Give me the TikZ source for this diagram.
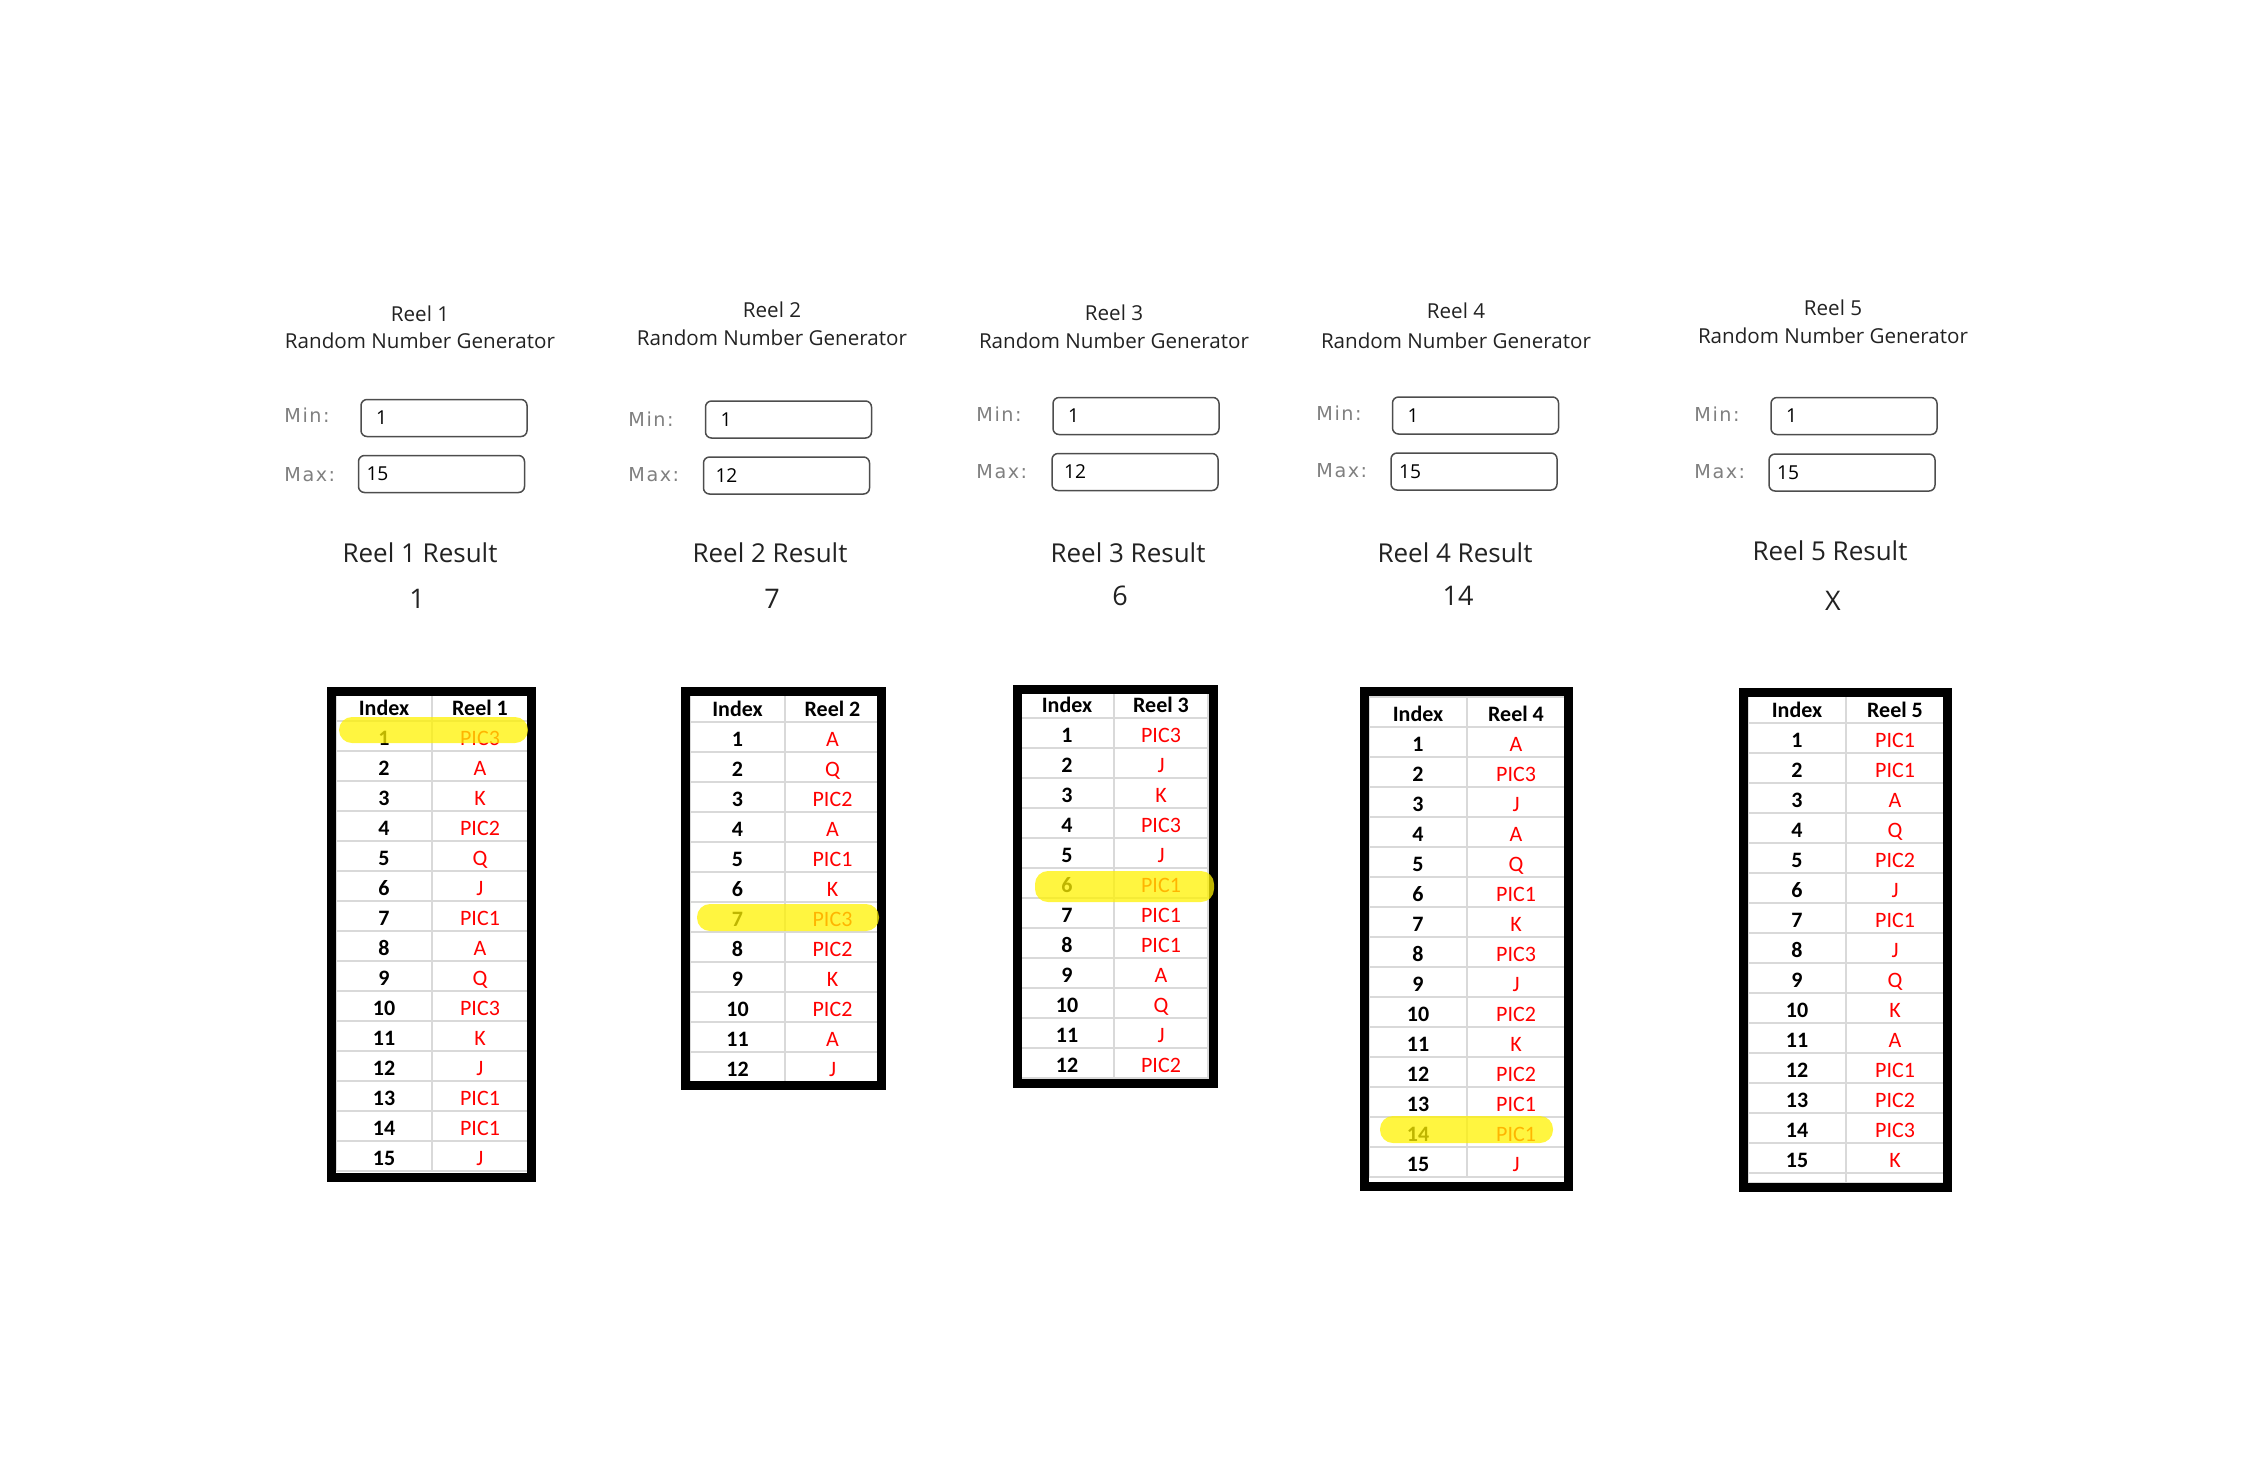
\documentclass[tikz,border=0pt]{standalone}
\usepackage{fontspec}
\setmainfont{Open Sans}
\newfontfamily\lblfont[LetterSpace=8]{DejaVu Sans}
\newfontfamily\cellfont{Carlito}
\usepackage{tikz}

\definecolor{labelgray}{HTML}{808080}
\definecolor{boxgray}{HTML}{4D4D4D}
\definecolor{gridgray}{HTML}{D9D9D9}
\definecolor{hiyellow}{HTML}{FFF200}
\definecolor{inkgray}{HTML}{222222}

\tikzset{
	reelhead/.style={anchor=base, inner sep=0pt, text=inkgray, font=\fontsize{10.3}{12}\selectfont},
	minmax/.style={anchor=base west, inner sep=0pt, text=labelgray, font=\lblfont\fontsize{9.6}{11}\selectfont},
	fieldbox/.style={draw=boxgray, line width=0.75pt, rounded corners=3pt, minimum width=83pt, minimum height=18.5pt, text width=75pt, inner xsep=4pt, align=left, font=\fontsize{9.6}{11}\selectfont},
	restitle/.style={anchor=base, inner sep=0pt, text=inkgray, font=\fontsize{13}{15}\selectfont},
	resnum/.style={anchor=base, inner sep=0pt, text=inkgray, font=\fontsize{13.5}{15}\selectfont},
	idxcell/.style={anchor=base, inner sep=0pt, font=\cellfont\bfseries\fontsize{11}{13}\selectfont},
	valcell/.style={anchor=base, inner sep=0pt, text=red, font=\cellfont\fontsize{11}{13}\selectfont},
	gridline/.style={draw=gridgray, line width=0.75pt},
	tableframe/.style={draw=black, line width=4.5pt},
	hilite/.style={fill=hiyellow, fill opacity=0.75, rounded corners=6.5pt}
}

\newcommand{\reeltable}[6]{%
	\foreach \v [count=\i] in {#6} {
		\draw[gridline] (#2, {#3+30*\i}) -- ({#2+2*#4}, {#3+30*\i});
		\draw[gridline] (#2, {#3+30*\i+30}) -- ({#2+2*#4}, {#3+30*\i+30});
		\node[idxcell] (t#1i\i)at({#2+#4/2}, {#3+30*\i+24}) {\i};
		\node[valcell] (t#1v\i)at({#2+1.5*#4}, {#3+30*\i+24}) {\v};
	}
	\draw[gridline] (#2, #3) rectangle ({#2+2*#4}, #5);
	\draw[gridline] ({#2+#4}, #3) -- ({#2+#4}, #5);
	\node[idxcell] (t#1ih)at({#2+#4/2}, {#3+24}) {Index};
	\node[idxcell] (t#1vh)at({#2+1.5*#4}, {#3+24}) {Reel #1};
}

\begin{document}
\begin{tikzpicture}[x=0.5pt, y=-0.5pt]
	\useasboundingbox (0, 0) rectangle (2241, 1473);

	\node[reelhead] (head1)at(420, 321) {Reel 1};
	\node[reelhead] (gen1)at(420, 348) {Random Number Generator};
	\node[minmax] (minlbl1)at(284, 422) {Min:};
	\node[fieldbox] (min1)at(444, 418) {\hspace{3.5pt}1};
	\node[minmax] (maxlbl1)at(284, 481) {Max:};
	\node[fieldbox] (max1)at(441.5, 474) {15};
	\node[restitle] (res1)at(420, 562) {Reel 1 Result};
	\node[resnum] (num1)at(417, 608) {1};

	\node[reelhead] (head2)at(772, 317) {Reel 2};
	\node[reelhead] (gen2)at(772, 345) {Random Number Generator};
	\node[minmax] (minlbl2)at(628, 426) {Min:};
	\node[fieldbox] (min2)at(788.5, 419.5) {\hspace{3.5pt}1};
	\node[minmax] (maxlbl2)at(628, 481) {Max:};
	\node[fieldbox] (max2)at(786.5, 475.5) {\hspace{2pt}12};
	\node[restitle] (res2)at(770, 562) {Reel 2 Result};
	\node[resnum] (num2)at(772, 608) {7};

	\node[reelhead] (head3)at(1114, 320) {Reel 3};
	\node[reelhead] (gen3)at(1114, 348) {Random Number Generator};
	\node[minmax] (minlbl3)at(976, 421) {Min:};
	\node[fieldbox] (min3)at(1136, 416) {\hspace{3.5pt}1};
	\node[minmax] (maxlbl3)at(976, 478) {Max:};
	\node[fieldbox] (max3)at(1135, 472) {\hspace{2pt}12};
	\node[restitle] (res3)at(1128, 562) {Reel 3 Result};
	\node[resnum] (num3)at(1120, 605) {6};

	\node[reelhead] (head4)at(1456, 318) {Reel 4};
	\node[reelhead] (gen4)at(1456, 348) {Random Number Generator};
	\node[minmax] (minlbl4)at(1316, 420) {Min:};
	\node[fieldbox] (min4)at(1475.5, 415.5) {\hspace{3.5pt}1};
	\node[minmax] (maxlbl4)at(1316, 477) {Max:};
	\node[fieldbox] (max4)at(1474, 471.5) {15};
	\node[restitle] (res4)at(1455, 562) {Reel 4 Result};
	\node[resnum] (num4)at(1458, 605) {14};

	\node[reelhead] (head5)at(1833, 315) {Reel 5};
	\node[reelhead] (gen5)at(1833, 343) {Random Number Generator};
	\node[minmax] (minlbl5)at(1694, 421) {Min:};
	\node[fieldbox] (min5)at(1854, 416) {\hspace{3.5pt}1};
	\node[minmax] (maxlbl5)at(1694, 478) {Max:};
	\node[fieldbox] (max5)at(1852, 472.5) {15};
	\node[restitle] (res5)at(1830, 560) {Reel 5 Result};
	\node[resnum] (num5)at(1833, 610) {X};

	\reeltable{1}{336}{691}{96}{1171}{PIC3,A,K,PIC2,Q,J,PIC1,A,Q,PIC3,K,J,PIC1,PIC1,J}
	\reeltable{2}{690}{692}{95}{1082}{A,Q,PIC2,A,PIC1,K,PIC3,PIC2,K,PIC2,A,J}
	\reeltable{3}{1020}{688}{94}{1078}{PIC3,J,K,PIC3,J,PIC1,PIC1,PIC1,A,Q,J,PIC2}
	\reeltable{4}{1369}{697}{98}{1177}{A,PIC3,J,A,Q,PIC1,K,PIC3,J,PIC2,K,PIC2,PIC1,PIC1,J}
	\reeltable{5}{1748}{693}{98}{1183}{PIC1,PIC1,A,Q,PIC2,J,PIC1,J,Q,K,A,PIC1,PIC2,PIC3,K}

	\draw[tableframe] (331.5, 691.5) rectangle (531.5, 1177.5);
	\draw[tableframe] (685.5, 691.5) rectangle (881.5, 1085.5);
	\draw[tableframe] (1017.5, 689.5) rectangle (1213.5, 1083.5);
	\draw[tableframe] (1364.5, 691.5) rectangle (1568.5, 1186.5);
	\draw[tableframe] (1743.5, 692.5) rectangle (1947.5, 1187.5);

	\fill[hilite] (339, 717) rectangle (528, 743);
	\fill[hilite] (697, 904) rectangle (879, 931);
	\fill[hilite] (1035, 871) rectangle (1214, 902);
	\fill[hilite] (1380, 1116) rectangle (1553, 1143);
\end{tikzpicture}
\end{document}
